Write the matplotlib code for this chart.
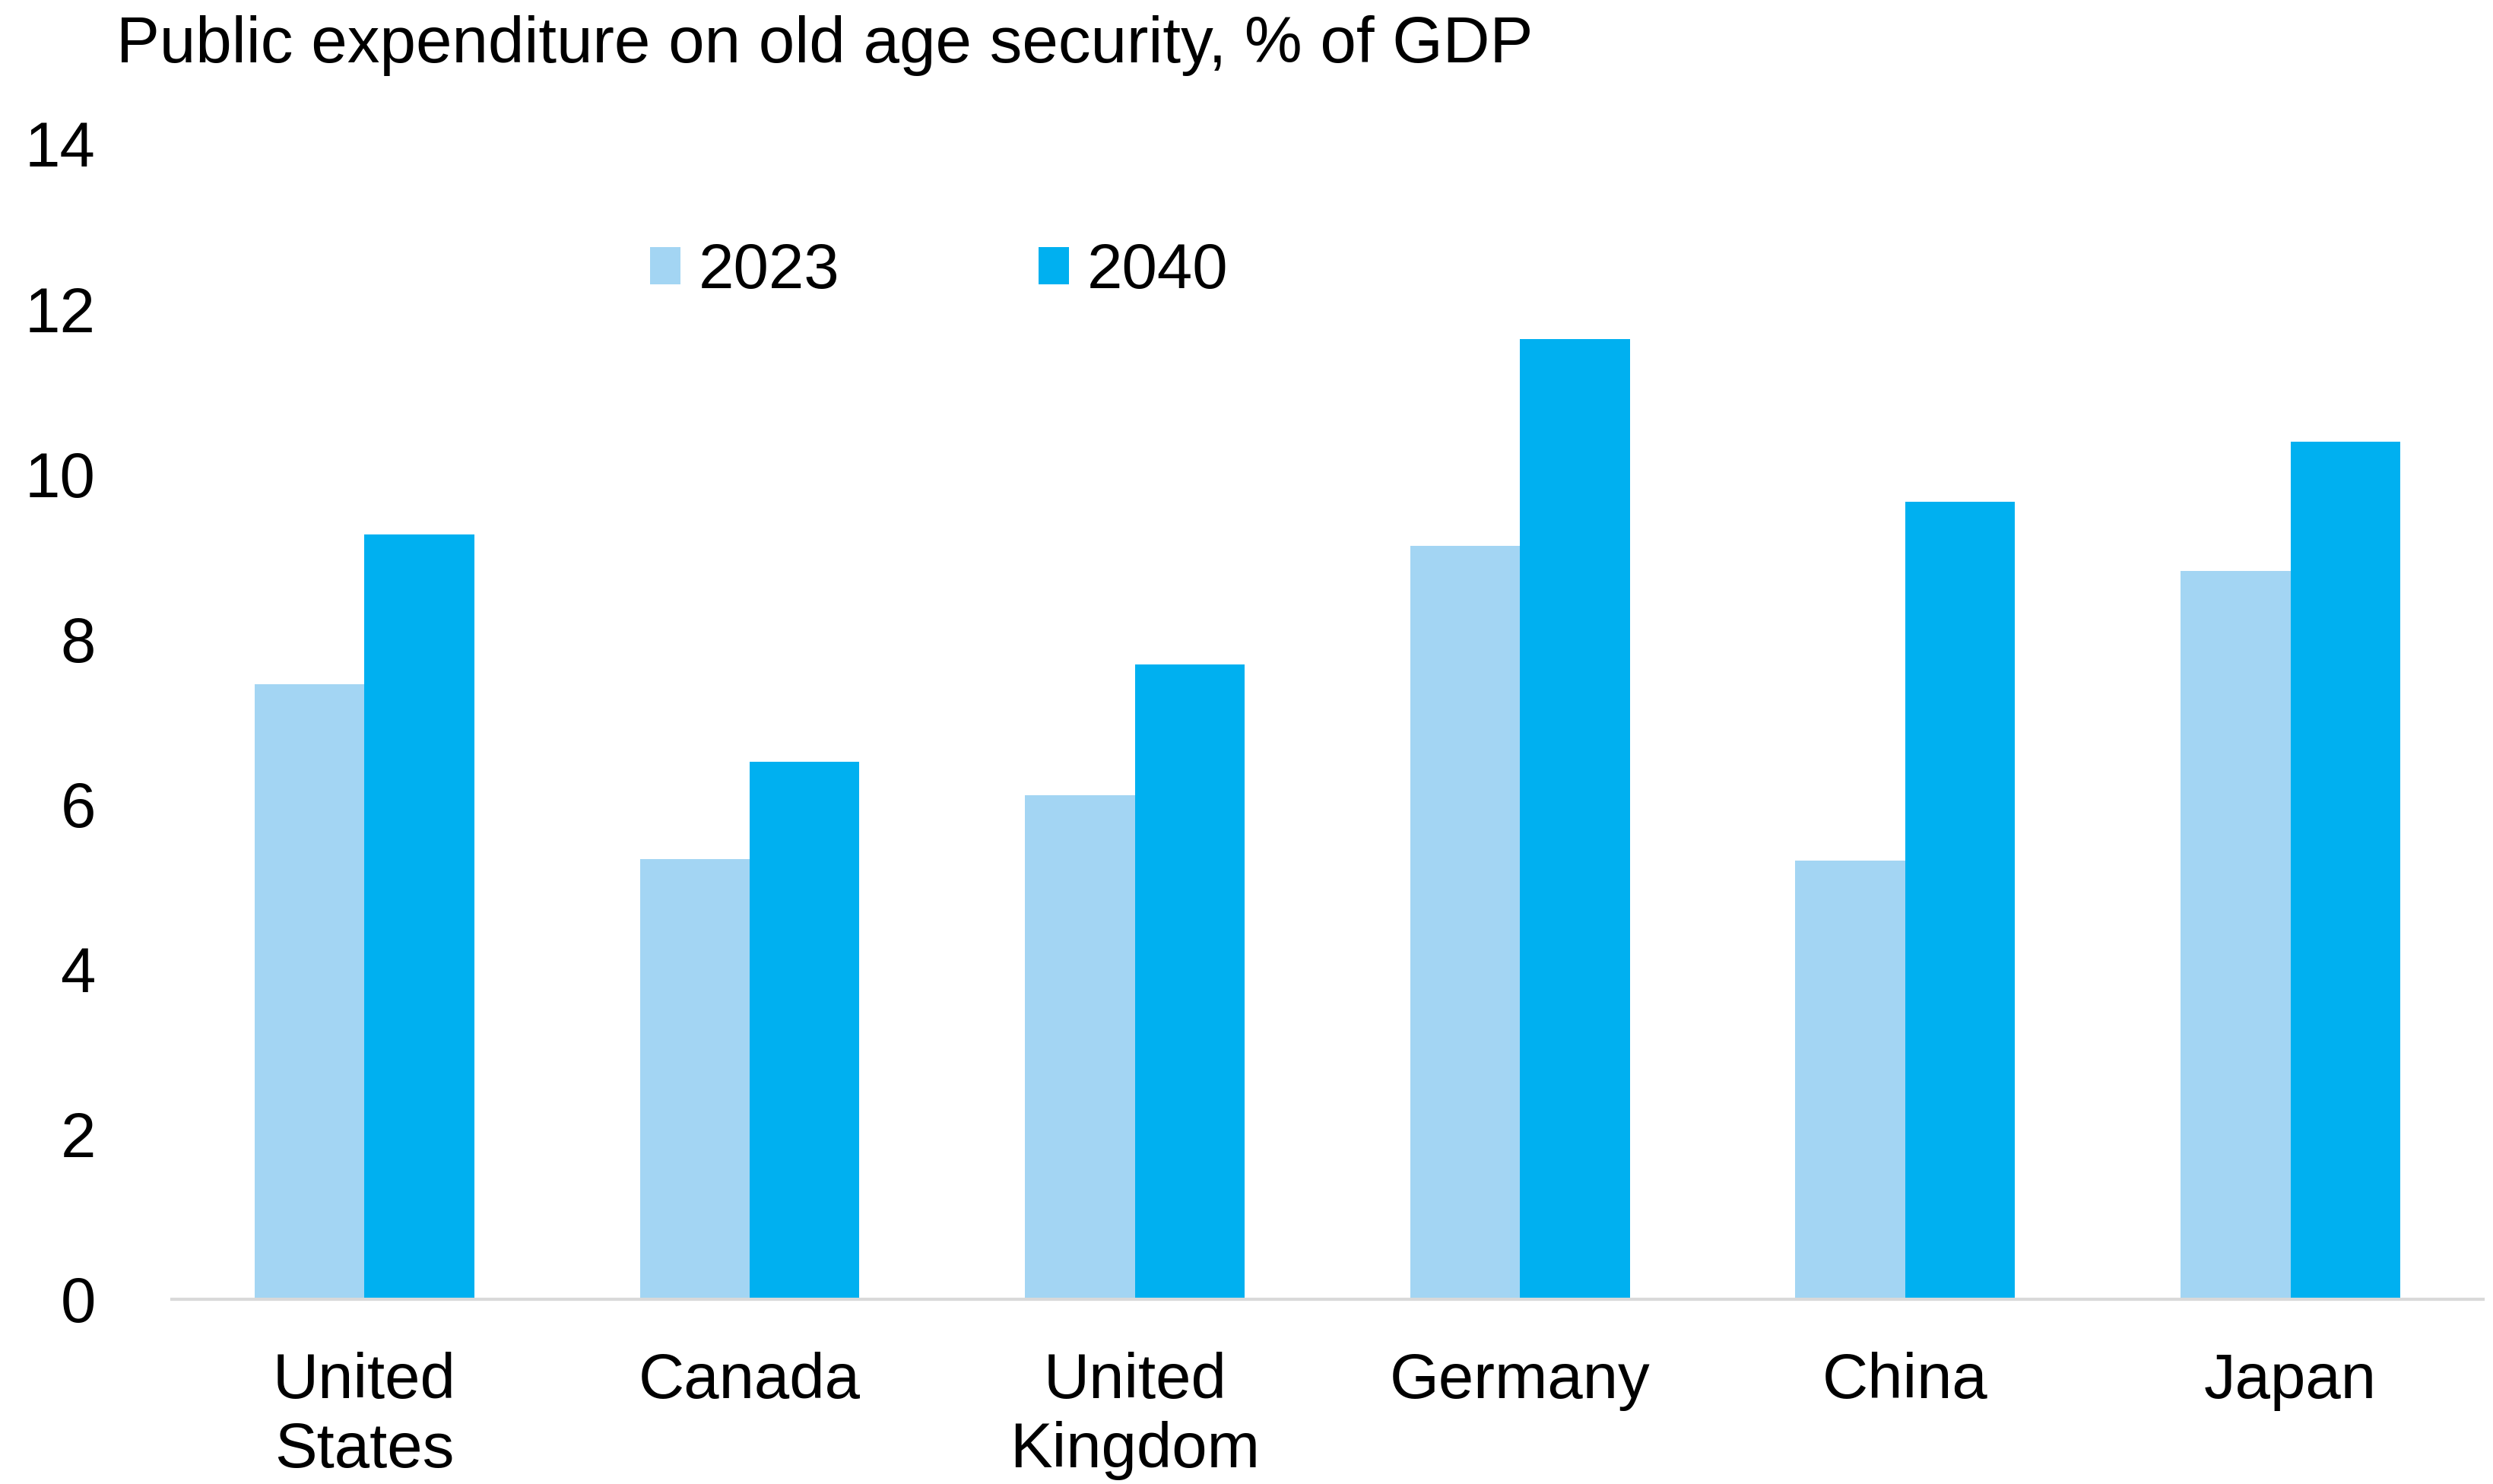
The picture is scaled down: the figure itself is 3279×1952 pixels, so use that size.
import numpy as np
import matplotlib.pyplot as plt

plt.rcParams['font.family'] = ['Liberation Sans', 'DejaVu Sans']

countries = ['United\nStates', 'Canada', 'United\nKingdom', 'Germany', 'China', 'Japan']
years = ['2023', '2040']
spend_2023 = [7.45, 5.33, 6.11, 9.13, 5.31, 8.82]
spend_2040 = [9.27, 6.51, 7.69, 11.63, 9.66, 10.39]
yticks = [0, 2, 4, 6, 8, 10, 12, 14]

colors = ['#A3D5F3', '#00B0F0']
fs = 60

fig = plt.figure(figsize=(32.79, 19.52), dpi=100)
ax = fig.add_axes([0.0689, 0.1245, 0.9271, 0.7787])

x = np.arange(len(countries))
w = 0.285
ax.bar(x - w / 2, spend_2023, width=w, color=colors[0], label=years[0])
ax.bar(x + w / 2, spend_2040, width=w, color=colors[1], label=years[1])

ax.set_xlim(-0.5, len(countries) - 0.5)
ax.set_ylim(0, 14)
ax.set_yticks(yticks)
ax.set_yticklabels([str(t) for t in yticks])
ax.set_xticks(x)
ax.set_xticklabels(countries, linespacing=1.2)
ax.tick_params(axis='y', length=0, pad=72, labelsize=fs)
ax.tick_params(axis='x', length=0, pad=50, labelsize=fs)
for lbl in ax.get_yticklabels():
    lbl.set_horizontalalignment('right')

for side in ['top', 'right', 'left']:
    ax.spines[side].set_visible(False)
ax.spines['bottom'].set_color('#D9D9D9')
ax.spines['bottom'].set_linewidth(3)

fig.text(153 / 3279, 1 - 82 / 1952, 'Public expenditure on old age security, % of GDP',
         fontsize=61.5, ha='left', va='baseline')

fig.legend(loc='center left', bbox_to_anchor=(855 / 3279, 0.817), ncol=2,
           frameon=False, fontsize=fs, handlelength=0.48, handleheight=0.53,
           handletextpad=0.28, columnspacing=3.15, borderpad=0, borderaxespad=0)

fig.savefig('out.png', dpi=100)
